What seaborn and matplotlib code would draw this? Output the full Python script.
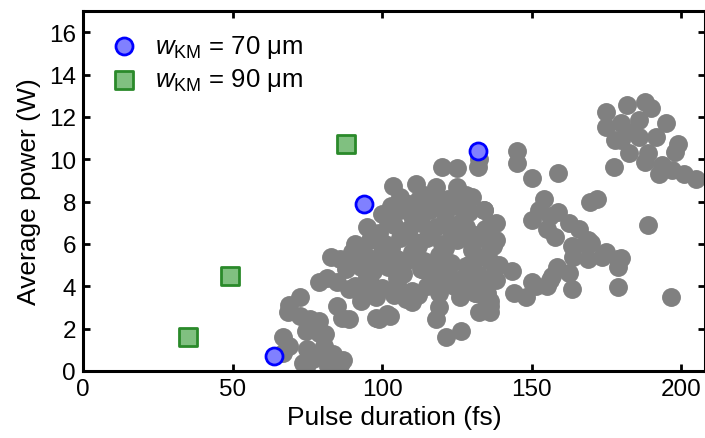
import matplotlib
matplotlib.use("Agg")
import matplotlib.pyplot as plt
import seaborn as sns
import pandas as pd

# Grey cloud: all measured (pulse duration, average power) pairs
gray_fs = [
    # low-power tail
    67, 69, 69, 72.5, 72.5, 73.5, 75, 76, 77, 79, 79, 81, 83.5, 87, 85, 86.5, 89,
    98, 101.5, 83, 81.5, 79, 89, 92.5, 90, 68.5, 74.5, 79, 80.5, 67, 74.5, 82, 86,
    # upper edge of the main cloud
    120, 125, 132, 132.5, 111.5, 103.5, 118, 125, 130, 103, 112.5,
    # main cloud rows
    106, 114, 122, 128,
    100, 106, 110, 116, 121, 126, 134,
    95, 99, 104, 109, 113, 118, 123, 128, 131, 136,
    91, 96, 101, 106, 111, 115, 120, 125, 130, 134, 137,
    86, 90, 95, 100, 105, 110, 114, 119, 123, 132, 136,
    88, 93, 97, 102, 107, 113, 117, 122, 127, 132, 137,
    85, 91, 96, 100, 105, 110, 115, 119, 124, 130, 134,
    93, 98, 104, 108, 112, 126, 131, 136,
    138, 138, 139, 138,
    # in-fill between the rows
    109, 118, 125, 102, 113, 121, 129, 97, 108, 116, 127, 93, 103, 112, 121,
    130, 90, 99, 108, 117, 129, 95, 105, 121,
    # right side of the main cloud and below it
    134, 134.5, 136, 135, 129, 128, 131.5, 135, 136, 135, 136, 132.5, 119, 118,
    121.5, 126.5, 110, 102.5, 99, 113.5,
    # middle group
    145, 145, 150, 159, 154, 152.5, 150, 156, 159, 162.5, 166, 169, 155, 158,
    163.5, 168, 169.5, 172, 143.5, 144, 148, 150, 156, 158.5, 162.5, 163.5, 164,
    169, 155, 151.5, 157, 175, 179, 173.5, 180, 179, 179, 170, 189, 196.5,
    # high-power cluster
    175, 182, 188, 190, 175, 180, 186, 195, 180, 186, 191.5, 182.5, 189, 199,
    198, 177.5, 188, 192.5, 197, 201, 205, 193.5, 184, 178,
]
gray_w = [
    1.6, 1.2, 3.1, 3.5, 2.6, 0.4, 1.05, 2.45, 0.55, 2.35, 0.8, 1.75, 0.8, 0.5, 3.05, 2.5, 2.45,
    2.5, 2.7, 5.4, 4.4, 4.2, 3.85, 3.7, 5.6, 2.8, 1.9, 1.8, 1.2, 0.85, 0.2, 0.25, 0.3,
    9.65, 9.6, 9.65, 10.0, 8.85, 8.75, 8.7, 8.7, 8.2, 7.8, 8.1,
    8.2, 8.3, 8.1, 8.3,
    7.4, 7.6, 7.3, 7.6, 7.4, 7.0, 7.6,
    6.8, 6.5, 6.9, 6.7, 7.0, 6.8, 6.6, 6.8, 6.4, 6.9,
    6.0, 6.2, 6.0, 6.3, 6.1, 6.3, 6.0, 6.2, 6.0, 6.3, 5.9,
    5.3, 5.5, 5.4, 5.6, 5.3, 5.6, 5.2, 5.5, 5.1, 5.4, 5.2,
    4.8, 4.9, 4.7, 4.9, 4.6, 4.8, 4.5, 4.7, 4.4, 4.6, 4.5,
    4.2, 4.0, 4.2, 3.9, 4.1, 3.8, 4.0, 3.7, 4.0, 4.1, 3.9,
    3.3, 3.5, 3.6, 3.4, 3.6, 3.5, 3.7, 3.3,
    7.0, 6.2, 5.0, 4.3,
    7.9, 7.9, 7.8, 7.1, 7.3, 7.1, 7.5, 6.5, 6.5, 6.6, 6.5, 5.8, 5.8, 5.9, 5.8,
    5.7, 5.1, 5.1, 5.2, 5.0, 5.0, 4.45, 4.4, 4.3,
    # right side of the main cloud and below it
    7.6, 6.7, 5.9, 5.4, 4.0, 4.95, 3.7, 3.7, 3.05, 3.25, 2.8, 2.8, 3.0, 2.45,
    1.6, 1.9, 3.25, 2.6, 2.45, 4.8,
    10.4, 9.8, 9.1, 9.35, 8.1, 7.6, 7.15, 7.3, 7.5, 7.0, 6.7, 6.2, 6.7, 6.35,
    5.9, 6.0, 8.0, 8.1, 4.7, 3.7, 3.5, 4.2, 4.3, 4.9, 4.65, 3.85, 5.4,
    5.3, 4.0, 4.0, 4.5, 5.6, 5.3, 5.4, 5.35, 4.9, 3.95, 6.05, 6.9, 3.5,
    12.25, 12.55, 12.7, 12.4, 11.5, 11.7, 11.85, 11.7, 10.9, 11.05, 11.05, 10.3, 10.3, 10.7,
    10.35, 9.65, 9.85, 9.3, 9.5, 9.3, 9.05, 9.75, 11.3, 10.9,
]

# Highlighted measurements for the two Kerr-medium spot sizes
km70_fs = [64, 94, 132]
km70_w = [0.7, 7.9, 10.4]
km90_fs = [35, 49, 88]
km90_w = [1.6, 4.5, 10.7]

x_ticks = [0, 50, 100, 150, 200]
y_ticks = [0, 2, 4, 6, 8, 10, 12, 14, 16]

sns.set_theme(style="ticks")
plt.rcParams["font.family"] = ["Liberation Sans", "DejaVu Sans"]
plt.rcParams["mathtext.fontset"] = "custom"
plt.rcParams["mathtext.rm"] = "Liberation Sans"
plt.rcParams["mathtext.it"] = "Liberation Sans:italic"
for key in ("text.color", "axes.labelcolor", "xtick.color", "ytick.color",
            "axes.edgecolor"):
    plt.rcParams[key] = "black"

fig = plt.figure(figsize=(7.05, 4.39), dpi=100)
ax = fig.add_axes([83 / 705, 67 / 439, 622 / 705, 360 / 439])

gray_df = pd.DataFrame({"fs": gray_fs, "w": gray_w})
km70_df = pd.DataFrame({"fs": km70_fs, "w": km70_w})
km90_df = pd.DataFrame({"fs": km90_fs, "w": km90_w})

sns.scatterplot(data=gray_df, x="fs", y="w", ax=ax, color="#808080", s=185,
                linewidth=0, zorder=2, legend=False)
sns.scatterplot(data=km70_df, x="fs", y="w", ax=ax, marker="o", s=150,
                color="#8080ff", edgecolor="#0000ff", linewidth=2.0, zorder=3,
                label=r"$w_{\mathrm{KM}}$ = 70 μm")
sns.scatterplot(data=km90_df, x="fs", y="w", ax=ax, marker="s", s=150,
                color="#80c080", edgecolor="#2a8a2a", linewidth=2.0, zorder=3,
                label=r"$w_{\mathrm{KM}}$ = 90 μm")

ax.set_xlim(0, 208)
ax.set_ylim(0, 17)
ax.set_xticks(x_ticks)
ax.set_yticks(y_ticks)
ax.set_xlabel("Pulse duration (fs)", fontsize=19, labelpad=4)
ax.set_ylabel("Average power (W)", fontsize=19, labelpad=6)
ax.tick_params(direction="in", length=5, width=2, labelsize=17.5,
               top=True, right=True, pad=5, colors="black")
for sp in ax.spines.values():
    sp.set_linewidth(2.2)
    sp.set_color("black")
    sp.set_visible(True)

ax.legend(loc="upper left", frameon=False, fontsize=18.5, handletextpad=0.45,
          labelspacing=0.25, borderaxespad=0.45, handlelength=1.5,
          borderpad=0.4)

fig.savefig("out.png", dpi=100)
